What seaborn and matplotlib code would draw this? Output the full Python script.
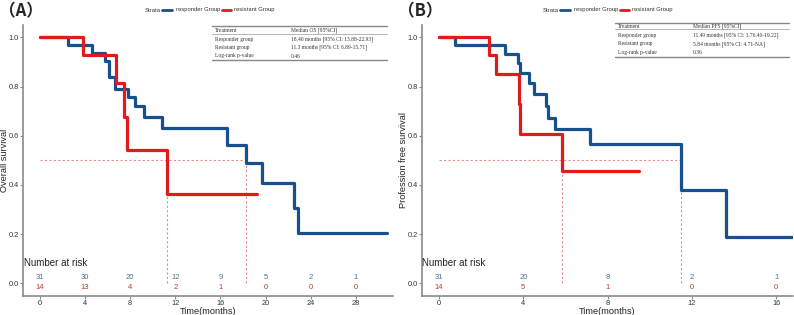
import numpy as np
import pandas as pd
import matplotlib
matplotlib.use("Agg")
import matplotlib.pyplot as plt
import matplotlib.transforms as mtransforms
import seaborn as sns
from matplotlib.lines import Line2D

# ---------------- data ----------------
os_resp_t = [0, 2.5, 4.6, 5.8, 6.15, 6.65, 7.8, 8.4, 9.2, 10.8, 16.6, 18.3, 19.7, 22.5, 22.9, 30.8]
os_resp_s = [1.0, 0.968, 0.935, 0.903, 0.839, 0.79, 0.757, 0.72, 0.676, 0.631, 0.561, 0.489, 0.408, 0.306, 0.204, 0.204]
os_res_t = [0, 3.85, 6.75, 7.45, 7.7, 11.25, 19.2]
os_res_s = [1.0, 0.929, 0.814, 0.678, 0.543, 0.362, 0.362]

pfs_resp_t = [0, 0.75, 3.15, 3.75, 3.85, 4.25, 4.5, 5.1, 5.18, 5.5, 7.15, 11.5, 13.6, 16.8]
pfs_resp_s = [1.0, 0.968, 0.933, 0.896, 0.856, 0.814, 0.768, 0.72, 0.672, 0.628, 0.567, 0.378, 0.189, 0.189]
pfs_res_t = [0, 2.35, 2.72, 3.8, 3.86, 5.86, 9.5]
pfs_res_s = [1.0, 0.929, 0.852, 0.73, 0.608, 0.456, 0.456]

os_medians = [18.3, 11.25]
pfs_medians = [11.49, 5.84]

os_risk_times = [0, 4, 8, 12, 16, 20, 24, 28]
os_risk_resp = [31, 30, 20, 12, 9, 5, 2, 1]
os_risk_res = [14, 13, 4, 2, 1, 0, 0, 0]
pfs_risk_times = [0, 4, 8, 12, 16]
pfs_risk_resp = [31, 20, 8, 2, 1]
pfs_risk_res = [14, 5, 1, 0, 0]

os_table = [["Treatment", "Median OS [95%CI]"],
            ["Responder group", "18.40 months [95% CI: 13.88-22.93]"],
            ["Resistant group", "11.3 months [95% CI: 6.89-15.71]"],
            ["Log-rank p-value", "0.46"]]
pfs_table = [["Treatment", "Median PFS [95%CI]"],
             ["Responder group", "11.49 months [95% CI: 3.76.40-19.22]"],
             ["Resistant group", "5.84 months [95% CI: 4.71-NA]"],
             ["Log-rank p-value", "0.36"]]

BLUE = "#17508E"
RED = "#E31A1C"
BLUE_TXT = "#4F7392"
RED_TXT = "#C0392B"
DASH = "#E88A92"
AXC = "#8a8a8a"

sns.set_theme(style="white")
plt.rcParams["font.family"] = ["Liberation Sans", "DejaVu Sans"]

W, H = 794, 315
fig = plt.figure(figsize=(W / 100, H / 100), dpi=100)


def fx(px):
    return px / W


def fy(py):
    return 1 - py / H


def panel(rect, rt, rs, st, ss, medians, rtimes, rresp, rres, xlim, xticks, ylabel, risk_x, ylab_px):
    ax = fig.add_axes(rect)
    df = pd.concat([
        pd.DataFrame({"t": rt, "s": rs, "g": "responder Group"}),
        pd.DataFrame({"t": st, "s": ss, "g": "resistant Group"}),
    ])
    sns.lineplot(data=df, x="t", y="s", hue="g", palette={"responder Group": BLUE, "resistant Group": RED},
                 estimator=None, drawstyle="steps-post", lw=2.3, ax=ax, legend=False, sort=False)
    # median lines
    ax.plot([0, max(medians)], [0.5, 0.5], ls=(0, (2, 2)), color=DASH, lw=0.8, zorder=0)
    for m in medians:
        ax.plot([m, m], [0, 0.5], ls=(0, (2, 2)), color=DASH, lw=0.8, zorder=0)
    # risk table
    ax.text(risk_x, 0.084, "Number at risk", fontsize=7, color="#222222", va="center", ha="left")
    for t, a, b in zip(rtimes, rresp, rres):
        ax.text(t, 0.024, str(a), color=BLUE_TXT, fontsize=5.5, ha="center", va="center")
        ax.text(t, -0.018, str(b), color=RED_TXT, fontsize=5.5, ha="center", va="center")
    ax.set_xlim(*xlim)
    ax.set_ylim(-0.05, 1.05)
    ax.set_xticks(xticks)
    ax.set_yticks([0, 0.2, 0.4, 0.6, 0.8, 1.0])
    ax.set_yticklabels(["0.0", "0.2", "0.4", "0.6", "0.8", "1.0"])
    ax.tick_params(axis="both", labelsize=5.3, colors="#333333", length=2, width=0.8, color=AXC,
                   direction="out", pad=1, bottom=True, left=True)
    ax.set_xlabel("Time(months)", fontsize=6.6, labelpad=0, color="#222222")
    ax.set_ylabel(ylabel, fontsize=6.6, color="#222222")
    ax.yaxis.set_label_coords(fx(ylab_px), 0.5,
                              transform=mtransforms.blended_transform_factory(fig.transFigure, ax.transAxes))
    for sp in ["top", "right"]:
        ax.spines[sp].set_visible(False)
    for sp in ["left", "bottom"]:
        ax.spines[sp].set_color(AXC)
        ax.spines[sp].set_linewidth(1.2)
    ax.grid(False)
    return ax


axA = panel([fx(23), fy(295.7), fx(393) - fx(23), fy(25) - fy(295.7)],
            os_resp_t, os_resp_s, os_res_t, os_res_s, os_medians,
            os_risk_times, os_risk_resp, os_risk_res, (-1.5, 31.3), os_risk_times, "Overall survival", -1.4, 9.5)
axB = panel([fx(421.7), fy(295.7), fx(793) - fx(421.7), fy(25) - fy(295.7)],
            pfs_resp_t, pfs_resp_s, pfs_res_t, pfs_res_s, pfs_medians,
            pfs_risk_times, pfs_risk_resp, pfs_risk_res, (-0.82, 16.8), pfs_risk_times,
            "Profession free survival", -0.8, 407.5)


def table(rows, x0, x1, xc, ytop, yhead, ybot, yrows):
    fig.add_artist(Line2D([fx(x0), fx(x1)], [fy(ytop), fy(ytop)], color="#888888", lw=1.0))
    fig.add_artist(Line2D([fx(x0), fx(x1)], [fy(yhead), fy(yhead)], color="#aaaaaa", lw=0.6))
    fig.add_artist(Line2D([fx(x0), fx(x1)], [fy(ybot), fy(ybot)], color="#888888", lw=1.0))
    for (a, b), yy in zip(rows, yrows):
        fig.text(fx(x0 + 3), fy(yy), a, fontsize=4.0, family="Liberation Serif", va="center", color="#333333")
        fig.text(fx(xc), fy(yy), b, fontsize=4.0, family="Liberation Serif", va="center", color="#333333")


table(os_table, 212, 387, 290.7, 25.7, 34, 60, [30.4, 39.3, 47.7, 56])
table(pfs_table, 615, 789, 692.7, 22.7, 29.3, 56.7, [26.3, 35.7, 44, 52.3])

# legends
for xs in (145, 543):
    fig.text(fx(xs), fy(10), "Strata", fontsize=4.2, va="center", color="#333333")
    fig.add_artist(Line2D([fx(xs + 16.5), fx(xs + 26.5)], [fy(10), fy(10)], color=BLUE, lw=2))
    fig.text(fx(xs + 30.5), fy(10), "responder Group", fontsize=4.2, va="center", color="#333333")
    fig.add_artist(Line2D([fx(xs + 77), fx(xs + 86)], [fy(10), fy(10)], color=RED, lw=2))
    fig.text(fx(xs + 89), fy(10), "resistant Group", fontsize=4.2, va="center", color="#333333")

fig.text(fx(-1), fy(11), "（A）", fontsize=12, fontweight="bold", va="center",
         family=["Noto Sans CJK SC", "DejaVu Sans"])
fig.text(fx(398), fy(11), "（B）", fontsize=12, fontweight="bold", va="center",
         family=["Noto Sans CJK SC", "DejaVu Sans"])

fig.savefig("out.png", dpi=100)
